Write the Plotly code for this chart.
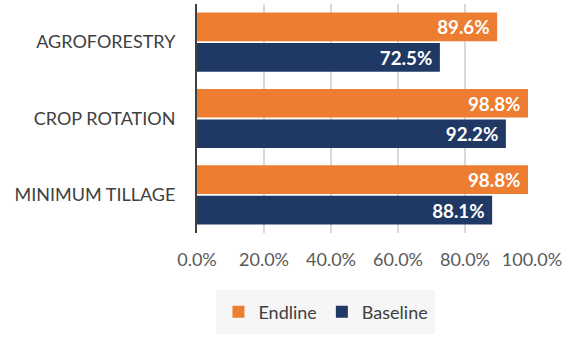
import plotly.graph_objects as go

categories = ["AGROFORESTRY", "CROP ROTATION", "MINIMUM TILLAGE"]
endline = [89.6, 98.8, 98.8]
baseline = [72.5, 92.2, 88.1]
tick_vals = [0, 20, 40, 60, 80, 100]
tick_text = ["0.0%", "20.0%", "40.0%", "60.0%", "80.0%", "100.0%"]

FONT = "Lato, 'Open Sans', sans-serif"

fig = go.Figure()
fig.add_trace(go.Bar(
    y=categories, x=endline, name="Endline", orientation="h",
    marker=dict(color="#ED7D31", line=dict(width=0)),
    text=[f"{v:.1f}%\u00a0" for v in endline], textposition="inside",
    insidetextanchor="end",
    textfont=dict(color="white", size=19, family=FONT, weight="bold"),
))
fig.add_trace(go.Bar(
    y=categories, x=baseline, name="Baseline", orientation="h",
    marker=dict(color="#203864", line=dict(width=0)),
    text=[f"{v:.1f}%\u00a0" for v in baseline], textposition="inside",
    insidetextanchor="end",
    textfont=dict(color="white", size=19, family=FONT, weight="bold"),
))

fig.update_layout(
    width=566, height=344,
    margin=dict(l=197, r=34, t=4, b=111),
    paper_bgcolor="white", plot_bgcolor="white",
    barmode="group", bargap=0.2, bargroupgap=0.06,
    font=dict(family=FONT, color="#404040", size=18),
    showlegend=True,
    legend=dict(orientation="h", x=0.385, xanchor="center", y=-0.345,
                yanchor="middle", bgcolor="rgba(0,0,0,0)",
                font=dict(size=18, color="#404040"), traceorder="normal",
                itemwidth=30),
    uniformtext=dict(mode="show", minsize=10),
)
fig.add_shape(type="rect", xref="paper", yref="paper",
              x0=(216 - 197) / 335, x1=(435 - 197) / 335,
              y0=(233 - 334) / 229, y1=(233 - 290) / 229,
              fillcolor="#f6f6f6", line=dict(width=0), layer="below")
fig.update_xaxes(range=[0, 100], tickvals=tick_vals, ticktext=tick_text,
                 showgrid=True, gridcolor="#d9d9d9", gridwidth=1.5,
                 zeroline=False, showline=False, ticks="",
                 ticklabelstandoff=14,
                 tickfont=dict(size=18, color="#595959"))
fig.update_yaxes(autorange="reversed", showline=True, linecolor="#404040",
                 linewidth=2, ticks="", ticklabelstandoff=16,
                 tickfont=dict(size=18, color="#404040"))

fig.write_html("out.html")
